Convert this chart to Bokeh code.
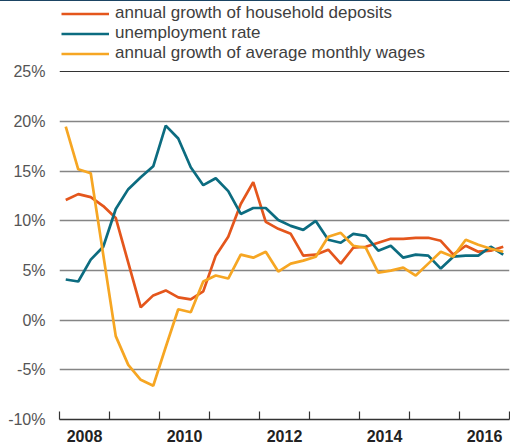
from bokeh.plotting import figure
from bokeh.models import (ColumnDataSource, FixedTicker, LinearAxis, Range1d,
                          Grid, Legend, LegendItem)
from bokeh.embed import file_html
from bokeh.resources import INLINE

# ---- data (quarterly, 2008Q1 .. 2016Q4) ----
years = list(range(2008, 2017))
quarters = [f"{y}Q{q}" for y in years for q in (1, 2, 3, 4)]

deposits = [12.1, 12.7, 12.4, 11.5, 10.3, 5.8, 1.3, 2.5, 3.0, 2.3, 2.1, 2.9,
            6.5, 8.4, 11.7, 13.9, 9.9, 9.2, 8.7, 6.5, 6.6, 7.1, 5.7, 7.3,
            7.4, 7.8, 8.2, 8.2, 8.3, 8.3, 8.0, 6.6, 7.5, 6.9, 7.0, 7.4]
unemployment = [4.1, 3.9, 6.1, 7.4, 11.2, 13.2, 14.4, 15.5, 19.6, 18.3, 15.4, 13.6,
                14.3, 13.0, 10.7, 11.3, 11.3, 10.1, 9.5, 9.1, 10.0, 8.1, 7.8, 8.7,
                8.5, 7.0, 7.5, 6.3, 6.6, 6.5, 5.2, 6.4, 6.5, 6.5, 7.4, 6.6]
wages = [19.5, 15.2, 14.8, 6.6, -1.6, -4.5, -6.0, -6.6, -2.7, 1.1, 0.8, 3.9,
         4.5, 4.2, 6.6, 6.3, 6.9, 4.9, 5.7, 6.0, 6.4, 8.4, 8.8, 7.5,
         7.3, 4.8, 5.0, 5.3, 4.5, 5.7, 6.9, 6.4, 8.1, 7.6, 7.2, 6.9]

series_labels = ["annual growth of household deposits", "unemployment rate",
                 "annual growth of average monthly wages"]
series_colors = ["#E4561C", "#0C6C80", "#F6A623"]

y_ticks = [-10, -5, 0, 5, 10, 15, 20, 25]
label_years = [2008, 2010, 2012, 2014, 2016]

# ---- derived positions (centre of each quarter) ----
xq = [int(s[:4]) + (int(s[-1]) - 0.5) / 4 for s in quarters]
src = ColumnDataSource(dict(x=xq, deposits=deposits, unemployment=unemployment,
                            wages=wages))

# frame extends to the top of the canvas; the region above 25% holds the legend
p = figure(width=510, height=444, output_backend="svg", toolbar_location=None,
           x_range=Range1d(2008, 2017), y_range=Range1d(-10, 32.2),
           x_axis_location=None, y_axis_location=None,
           min_border_left=59, min_border_right=1, min_border_top=0,
           min_border_bottom=25,
           styles={"background": "linear-gradient(#1B4463, #1B4463) top left / 100% 1px no-repeat"})
p.outline_line_color = None
p.background_fill_color = None
p.border_fill_color = None

# y axis (labels only)
yax = LinearAxis(ticker=FixedTicker(ticks=y_ticks))
p.add_layout(yax, "left")
yax.major_label_overrides = {t: f"{t}%" for t in y_ticks}
yax.axis_line_color = None
yax.major_tick_line_color = None
yax.minor_tick_line_color = None
yax.major_label_standoff = 8
yax.major_label_text_font = "Liberation Sans"
yax.major_label_text_font_size = "16px"
yax.major_label_text_color = "#555555"

# x axis: labels at mid-year of even years, small ticks at year boundaries
xax = LinearAxis(ticker=FixedTicker(ticks=[y + 0.5 for y in label_years],
                                    minor_ticks=years + [2017]))
p.add_layout(xax, "below")
xax.major_label_overrides = {y + 0.5: str(y) for y in label_years}
xax.axis_line_color = "#333333"
xax.axis_line_width = 1.5
xax.major_tick_line_color = None
xax.minor_tick_line_color = "#333333"
xax.minor_tick_line_width = 1.2
xax.minor_tick_in = 8
xax.minor_tick_out = 0
xax.major_label_standoff = 4
xax.major_label_text_font = "Liberation Sans"
xax.major_label_text_font_size = "16px"
xax.major_label_text_font_style = "bold"
xax.major_label_text_color = "#222222"

# grid
p.xgrid.visible = False
p.ygrid.ticker = FixedTicker(ticks=[t for t in y_ticks if -10 < t < 25])
p.ygrid.grid_line_color = "#858585"
p.ygrid.grid_line_width = 1.5
p.add_layout(Grid(dimension=1, ticker=FixedTicker(ticks=[25]),
                  grid_line_color="#333333", grid_line_width=1))

items = []
for key, lab, col in zip(["deposits", "unemployment", "wages"], series_labels,
                         series_colors):
    r = p.line("x", key, source=src, line_color=col, line_width=2.7)
    items.append(LegendItem(label=lab, renderers=[r]))

lg = Legend(items=items, location=(2, 356), orientation="vertical",
            background_fill_alpha=0, border_line_color=None,
            padding=0, margin=0, spacing=0,
            label_height=19, glyph_height=19, glyph_width=48,
            label_standoff=6, label_text_font="Liberation Sans",
            label_text_font_size="17px", label_text_color="#404040")
p.add_layout(lg)

open("out.html", "w").write(file_html(p, INLINE))
